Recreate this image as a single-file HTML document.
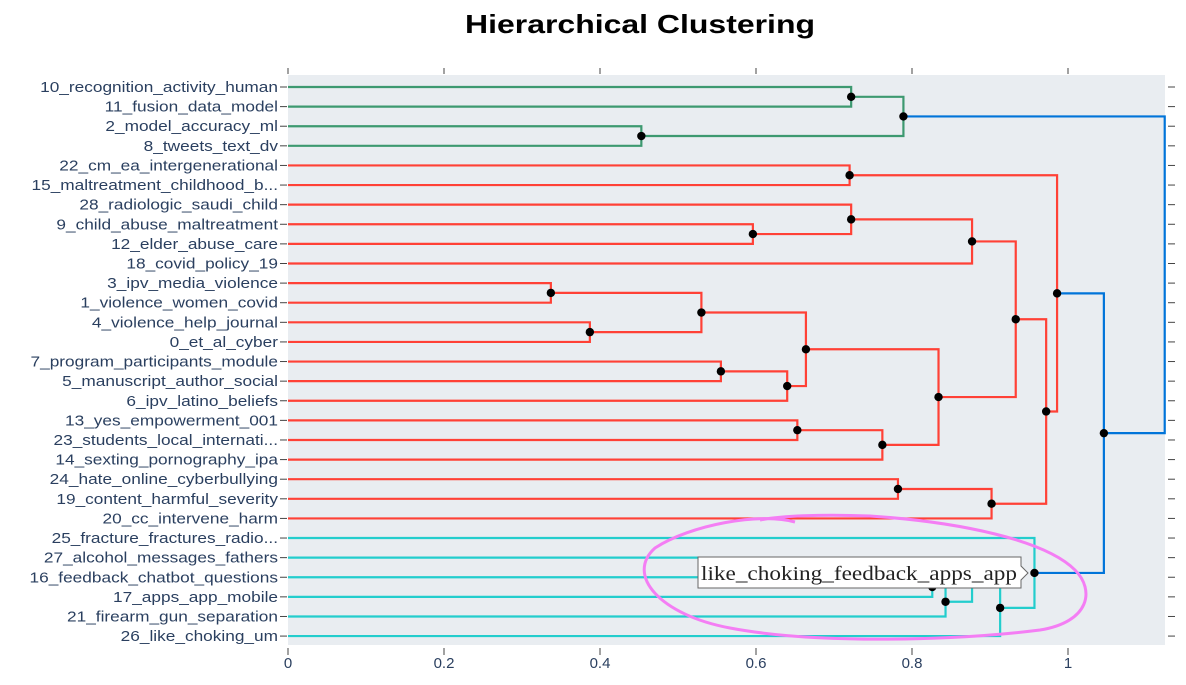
<!DOCTYPE html>
<html><head><meta charset="utf-8"><style>
body{margin:0;background:#fff;width:1186px;height:680px;overflow:hidden;font-family:"Liberation Sans",sans-serif}
</style></head><body>
<svg id="chart" width="1186" height="680" xmlns="http://www.w3.org/2000/svg">
<text x="640" y="33" text-anchor="middle" font-size="26" font-weight="bold" fill="#000" textLength="350" lengthAdjust="spacingAndGlyphs">Hierarchical Clustering</text>
<rect x="288" y="75" width="877" height="570" fill="#e9edf1"/>
<g id="axes"></g>
<g id="links"></g>
<g id="dots"></g>
<g>
<path d="M698,557 H1021 V566 L1028,573 L1021,580 V588 H698 Z" fill="#fff" stroke="#666" stroke-width="1"/>
<text x="701" y="580" font-family="Liberation Serif, serif" font-size="20" fill="#222" textLength="316" lengthAdjust="spacingAndGlyphs">like_choking_feedback_apps_app</text>
</g>
<path d="M795,522 C760,512 690,525 655,548 C625,575 660,615 730,628 C820,645 960,640 1040,630 C1090,622 1095,590 1075,570 C1045,540 960,522 870,516 C820,514 780,516 760,520" fill="none" stroke="#f47ef4" stroke-width="3"/>
</svg>
<script>
const leafLabels=["10_recognition_activity_human","11_fusion_data_model","2_model_accuracy_ml","8_tweets_text_dv","22_cm_ea_intergenerational","15_maltreatment_childhood_b...","28_radiologic_saudi_child","9_child_abuse_maltreatment","12_elder_abuse_care","18_covid_policy_19","3_ipv_media_violence","1_violence_women_covid","4_violence_help_journal","0_et_al_cyber","7_program_participants_module","5_manuscript_author_social","6_ipv_latino_beliefs","13_yes_empowerment_001","23_students_local_internati...","14_sexting_pornography_ipa","24_hate_online_cyberbullying","19_content_harmful_severity","20_cc_intervene_harm","25_fracture_fractures_radio...","27_alcohol_messages_fathers","16_feedback_chatbot_questions","17_apps_app_mobile","21_firearm_gun_separation","26_like_choking_um"];
const mergeLeft=[0,2,29,4,7,6,34,10,12,36,14,39,38,17,42,41,20,45,35,47,32,25,50,24,52,23,49,31];
const mergeRight=[1,3,30,5,8,33,9,11,13,37,15,16,40,18,19,43,21,22,44,46,48,26,27,51,28,53,54,55];
const mergeHeights=[0.722,0.453,0.789,0.72,0.596,0.722,0.877,0.337,0.387,0.53,0.555,0.64,0.664,0.653,0.762,0.834,0.782,0.902,0.933,0.972,0.986,0.826,0.843,0.877,0.913,0.957,1.046,1.124];
const mergeColors=["g","g","g","r","r","r","r","r","r","r","r","r","r","r","r","r","r","r","r","r","r","c","c","c","c","c","b","b"];
const xTicks=[0,0.2,0.4,0.6,0.8,1];
</script>
<script>
const colors={g:"rgb(61,153,112)",r:"rgb(255,65,54)",c:"rgb(35,205,205)",b:"rgb(0,116,217)"};
const NS="http://www.w3.org/2000/svg";
const xs=v=>288+v*780, ys=i=>87+i*19.61;
const axes=document.getElementById('axes'),links=document.getElementById('links'),dots=document.getElementById('dots');
function mk(tag,attrs,parent){const e=document.createElementNS(NS,tag);for(const k in attrs)e.setAttribute(k,attrs[k]);parent.appendChild(e);return e;}
leafLabels.forEach((l,i)=>{
 const t=mk('text',{x:278,y:ys(i)+5,'text-anchor':'end','font-size':14.5,fill:'#2a3f5f'},axes);
 t.textContent=l;
 
 
 const w=t.getComputedTextLength();
 t.setAttribute('textLength',(w*1.19).toFixed(1));
 t.setAttribute('lengthAdjust','spacingAndGlyphs');
 mk('line',{x1:280,x2:287,y1:ys(i),y2:ys(i),stroke:'#444','stroke-width':1},axes);
 mk('line',{x1:1168,x2:1175,y1:ys(i),y2:ys(i),stroke:'#444','stroke-width':1},axes);
});
xTicks.forEach(v=>{
 const t=mk('text',{x:xs(v),y:668,'text-anchor':'middle','font-size':15,fill:'#2a3f5f'},axes);
 t.textContent=String(v);
 
 
 mk('line',{x1:xs(v),x2:xs(v),y1:648,y2:655,stroke:'#444'},axes);
 mk('line',{x1:xs(v),x2:xs(v),y1:68,y2:74,stroke:'#444'},axes);
});
const nodeY=leafLabels.map((_,i)=>ys(i)),nodeH=leafLabels.map(()=>0);
mergeLeft.forEach((a,k)=>{
 const b=mergeRight[k],h=mergeHeights[k],c=mergeColors[k];
 const ya=nodeY[a],yb=nodeY[b],x=xs(h);
 const p=mk('path',{d:`M${xs(nodeH[a])},${ya} H${x} V${yb} H${xs(nodeH[b])}`,fill:'none',stroke:colors[c],'stroke-width':2.2},links);
 
 
 const ym=(ya+yb)/2;
 nodeY.push(ym);nodeH.push(h);
 if(k<mergeLeft.length-1){
  const d=mk('circle',{cx:x,cy:ym,r:4.2,fill:'#000'},dots);
  
  
 }
});
</script>
</body></html>
